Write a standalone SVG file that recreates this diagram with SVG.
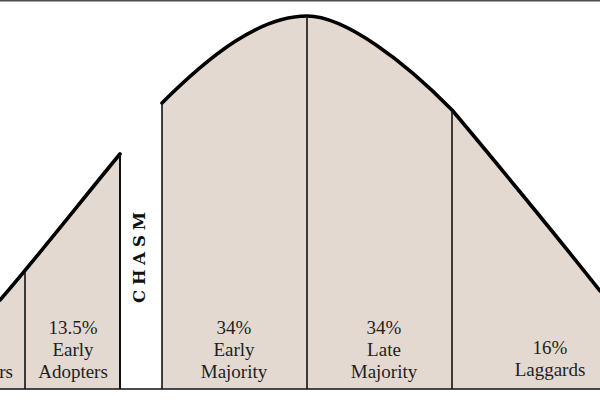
<svg xmlns="http://www.w3.org/2000/svg" width="600" height="400" viewBox="0 0 600 400">
  <style>
    .area { fill: #e4d9d1; stroke: none; }
    .curve { fill: none; stroke: #000; stroke-width: 3.6; stroke-linecap: round; stroke-linejoin: round; }
    .div { stroke: #111; stroke-width: 1.6; fill: none; }
    .lbl { font-family: "Liberation Serif", "Times New Roman", serif; font-size: 19px; fill: #1e1e1e; text-anchor: middle; }
    .chasm { font-family: "DejaVu Serif", "Liberation Serif", serif; font-size: 16.5px; font-weight: bold; fill: #111; letter-spacing: 4.8px; text-anchor: middle; }
  </style>
  <rect x="0" y="0" width="600" height="400" fill="#ffffff"/>
  <line x1="0" y1="0.7" x2="600" y2="0.7" stroke="#4d4d4d" stroke-width="1.6"/>

  <g id="innovators">
    <path class="area" d="M0,389 L0,300 C4,295 10,287 25,272 L25,389 Z"/>
    <text class="lbl" x="13" y="378" style="text-anchor:end">rs</text>
  </g>

  <g id="early-adopters">
    <path class="area" d="M25,389 L25,272 C45,246 90,190 120,154 L120,389 Z"/>
    <path class="curve" d="M0,300 C30,266 90,190 120,154"/>
    <text class="lbl" x="73" y="334">13.5%</text>
    <text class="lbl" x="73" y="356">Early</text>
    <text class="lbl" x="73" y="378">Adopters</text>
  </g>

  <g id="chasm">
    <text class="chasm" x="2.4" y="0" transform="translate(145,257.5) rotate(-90)">CHASM</text>
  </g>

  <g id="early-majority">
    <path class="area" d="M162,389 L162,103 C210,55 260,16 307,16 L307,389 Z"/>
    <text class="lbl" x="234" y="334">34%</text>
    <text class="lbl" x="234" y="356">Early</text>
    <text class="lbl" x="234" y="378">Majority</text>
  </g>

  <g id="late-majority">
    <path class="area" d="M307,389 L307,16 C345,16 405,62 452,110 L452,389 Z"/>
    <text class="lbl" x="384" y="334">34%</text>
    <text class="lbl" x="384" y="356">Late</text>
    <text class="lbl" x="384" y="378">Majority</text>
  </g>

  <g id="laggards">
    <path class="area" d="M452,389 L452,110 C480,143 560,240 600,291 L600,389 Z"/>
    <text class="lbl" x="550" y="354">16%</text>
    <text class="lbl" x="550" y="376">Laggards</text>
  </g>

  <g id="connectors">
    <path class="curve" d="M162,103 C210,55 260,16 307,16 C345,16 405,62 452,110 C480,143 560,240 600,291"/>
    <line class="div" x1="25" y1="272" x2="25" y2="389"/>
    <line class="div" x1="120" y1="154" x2="120" y2="389" style="stroke-width:2"/>
    <line class="div" x1="162" y1="103" x2="162" y2="389"/>
    <line class="div" x1="307" y1="16" x2="307" y2="389"/>
    <line class="div" x1="452" y1="110" x2="452" y2="389"/>
    <line class="div" x1="0" y1="389" x2="600" y2="389"/>
  </g>
</svg>
